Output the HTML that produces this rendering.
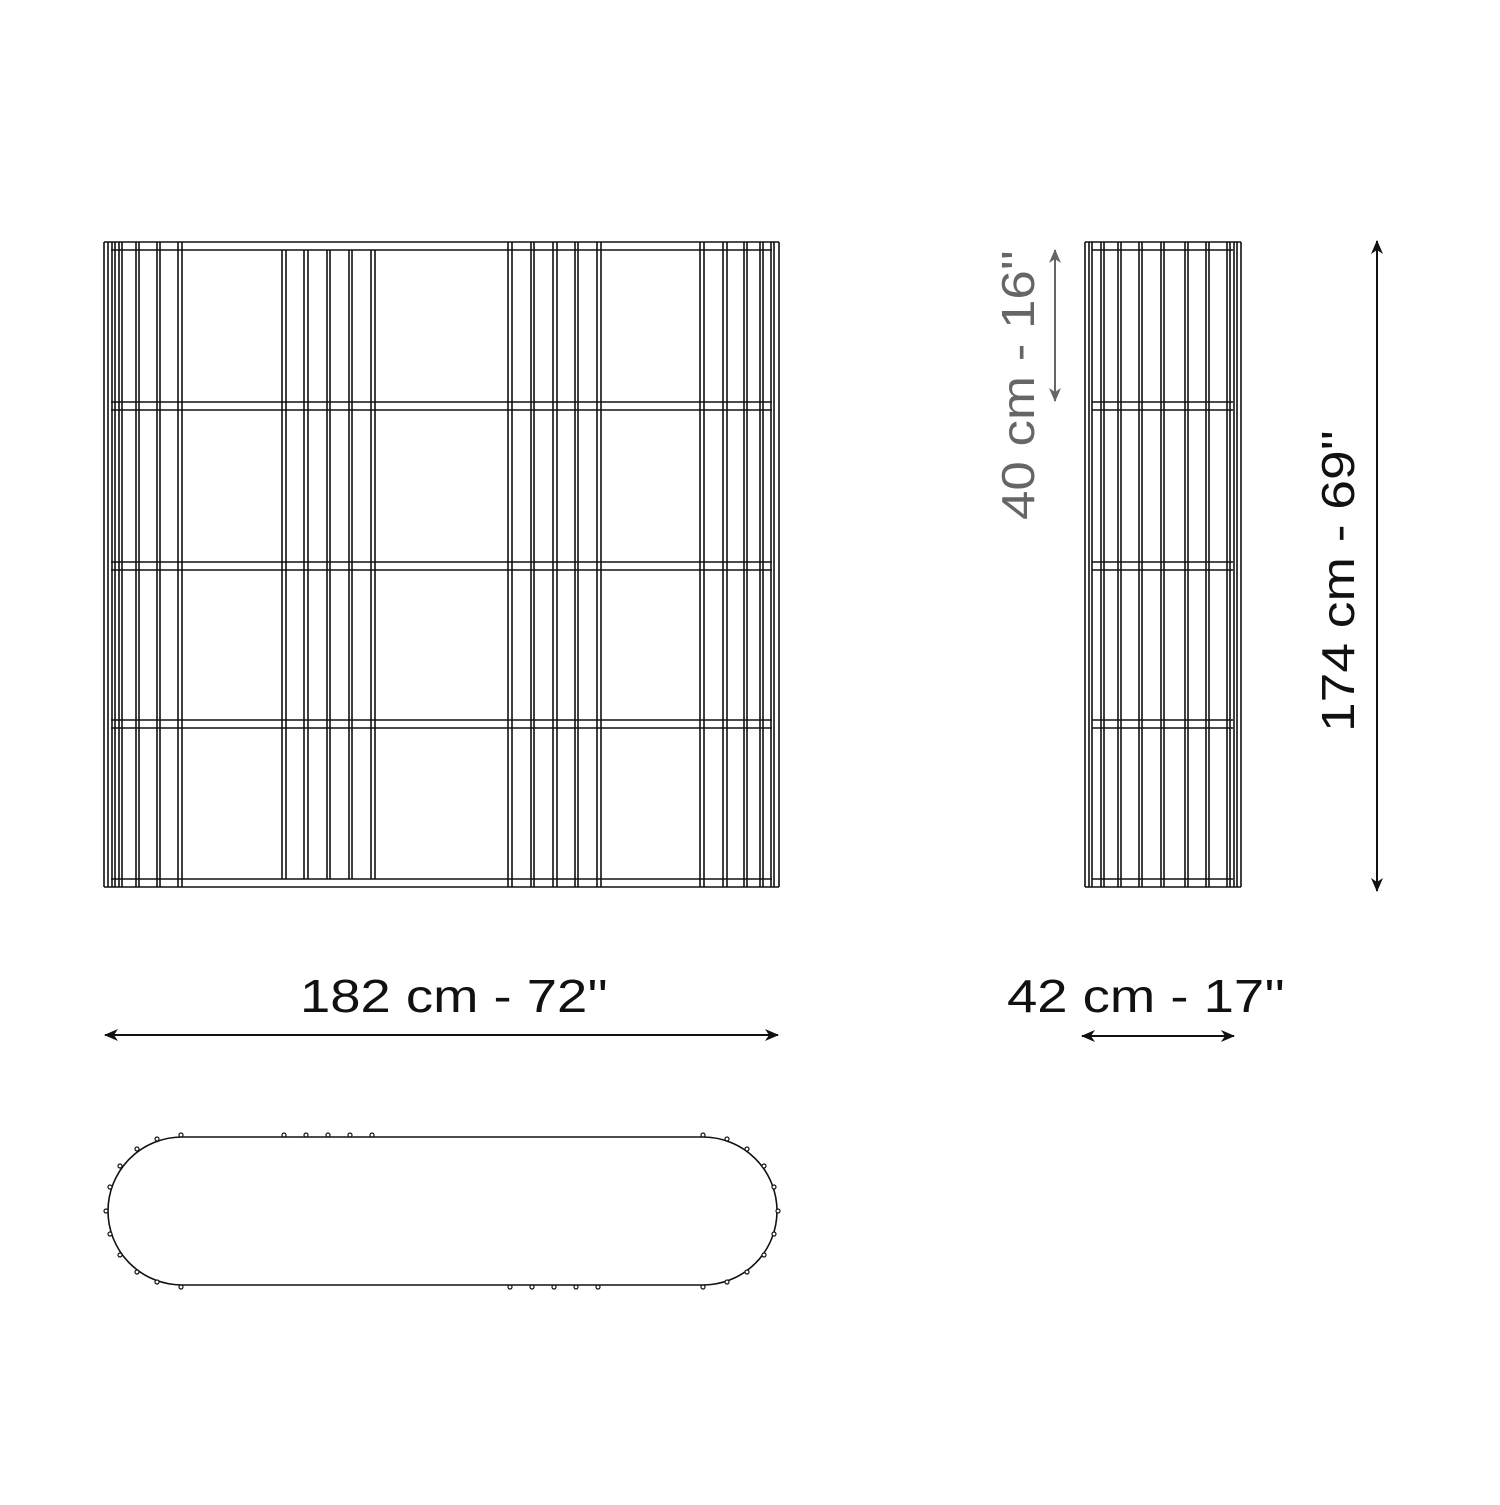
<!DOCTYPE html>
<html><head><meta charset="utf-8"><style>html,body{margin:0;padding:0;background:#fff}</style></head>
<body>
<svg width="1500" height="1500" viewBox="0 0 1500 1500" xmlns="http://www.w3.org/2000/svg">
<defs>
<marker id="ab" markerWidth="14" markerHeight="12" refX="13" refY="6" orient="auto-start-reverse" markerUnits="userSpaceOnUse"><path d="M0,0 L14,6 L0,12 L4,6 Z" fill="#111"/></marker>
<marker id="ag" markerWidth="14" markerHeight="12" refX="13" refY="6" orient="auto-start-reverse" markerUnits="userSpaceOnUse"><path d="M0,0 L14,6 L0,12 L4,6 Z" fill="#666"/></marker>
</defs>
<g stroke="#111" stroke-width="1.6" fill="none">
<line x1="104" y1="242" x2="779" y2="242"/>
<line x1="111" y1="250" x2="772" y2="250"/>
<line x1="111" y1="402" x2="772" y2="402"/><line x1="111" y1="410" x2="772" y2="410"/>
<line x1="111" y1="562" x2="772" y2="562"/><line x1="111" y1="570" x2="772" y2="570"/>
<line x1="111" y1="720" x2="772" y2="720"/><line x1="111" y1="728" x2="772" y2="728"/>
<line x1="111" y1="879" x2="772" y2="879"/><line x1="104" y1="887" x2="779" y2="887"/>
<path d="M104 242V887M108 242V887M112 242V887M115 242V887M119 242V887M122 242V887M136 242V887M139 242V887M157 242V887M160 242V887M178 242V887M182 242V887M282 250V879M286 250V879M304 250V879M308 250V879M327 250V879M330 250V879M349 250V879M352 250V879M371 250V879M375 250V879M508 242V887M512 242V887M531 242V887M534 242V887M553 242V887M557 242V887M575 242V887M578 242V887M597 242V887M601 242V887M700 242V887M704 242V887M723 242V887M727 242V887M744 242V887M747 242V887M760 242V887M763 242V887M771 242V887M774 242V887M779 242V887"/>
<line x1="1085" y1="242" x2="1241" y2="242"/>
<line x1="1092" y1="250" x2="1233" y2="250"/>
<line x1="1092" y1="402" x2="1233" y2="402"/><line x1="1092" y1="410" x2="1233" y2="410"/>
<line x1="1092" y1="562" x2="1233" y2="562"/><line x1="1092" y1="570" x2="1233" y2="570"/>
<line x1="1092" y1="720" x2="1233" y2="720"/><line x1="1092" y1="728" x2="1233" y2="728"/>
<line x1="1092" y1="879" x2="1233" y2="879"/><line x1="1085" y1="887" x2="1241" y2="887"/>
<path d="M1085 242V887M1089 242V887M1092 242V887M1101 242V887M1104 242V887M1118 242V887M1121 242V887M1139 242V887M1142 242V887M1161 242V887M1164 242V887M1185 242V887M1188 242V887M1206 242V887M1209 242V887M1227 242V887M1230 242V887M1234 242V887M1237 242V887M1241 242V887"/>
<rect x="108" y="1137" width="669" height="148" rx="74" ry="74"/>
</g>
<g stroke="#111" stroke-width="1.2" fill="#fff">
<circle cx="181" cy="1135" r="2"/><circle cx="284" cy="1135" r="2"/><circle cx="306" cy="1135" r="2"/><circle cx="328" cy="1135" r="2"/><circle cx="350" cy="1135" r="2"/><circle cx="372" cy="1135" r="2"/>
<circle cx="157" cy="1139" r="2"/><circle cx="137" cy="1149" r="2"/><circle cx="120" cy="1166" r="2"/><circle cx="110" cy="1187" r="2"/><circle cx="106" cy="1211" r="2"/><circle cx="110" cy="1234" r="2"/><circle cx="120" cy="1255" r="2"/><circle cx="137" cy="1272" r="2"/><circle cx="157" cy="1282" r="2"/><circle cx="181" cy="1287" r="2"/>
<circle cx="510" cy="1287" r="2"/><circle cx="532" cy="1287" r="2"/><circle cx="554" cy="1287" r="2"/><circle cx="576" cy="1287" r="2"/><circle cx="598" cy="1287" r="2"/>
<circle cx="703" cy="1135" r="2"/><circle cx="727" cy="1139" r="2"/><circle cx="747" cy="1149" r="2"/><circle cx="764" cy="1166" r="2"/><circle cx="774" cy="1187" r="2"/><circle cx="778" cy="1211" r="2"/><circle cx="774" cy="1234" r="2"/><circle cx="764" cy="1255" r="2"/><circle cx="747" cy="1272" r="2"/><circle cx="727" cy="1282" r="2"/><circle cx="703" cy="1287" r="2"/>
</g>
<g stroke="#111" stroke-width="2" fill="none">
<line x1="105" y1="1035" x2="778" y2="1035" marker-start="url(#ab)" marker-end="url(#ab)"/>
<line x1="1082" y1="1036" x2="1234" y2="1036" marker-start="url(#ab)" marker-end="url(#ab)"/>
<line x1="1377" y1="241" x2="1377" y2="891" marker-start="url(#ab)" marker-end="url(#ab)"/>
</g>
<line x1="1055" y1="250" x2="1055" y2="401" stroke="#666" stroke-width="2" marker-start="url(#ag)" marker-end="url(#ag)"/>
<g font-family="Liberation Sans, sans-serif" font-size="46">
<text x="300" y="1012" textLength="308" lengthAdjust="spacingAndGlyphs" fill="#111">182 cm - 72''</text>
<text x="1007" y="1012" textLength="278" lengthAdjust="spacingAndGlyphs" fill="#111">42 cm - 17''</text>
<text transform="translate(1354,732) rotate(-90)" textLength="302" lengthAdjust="spacingAndGlyphs" fill="#111">174 cm - 69''</text>
<text transform="translate(1034,520) rotate(-90)" textLength="270" lengthAdjust="spacingAndGlyphs" fill="#666">40 cm - 16''</text>
</g>
</svg>
</body></html>
